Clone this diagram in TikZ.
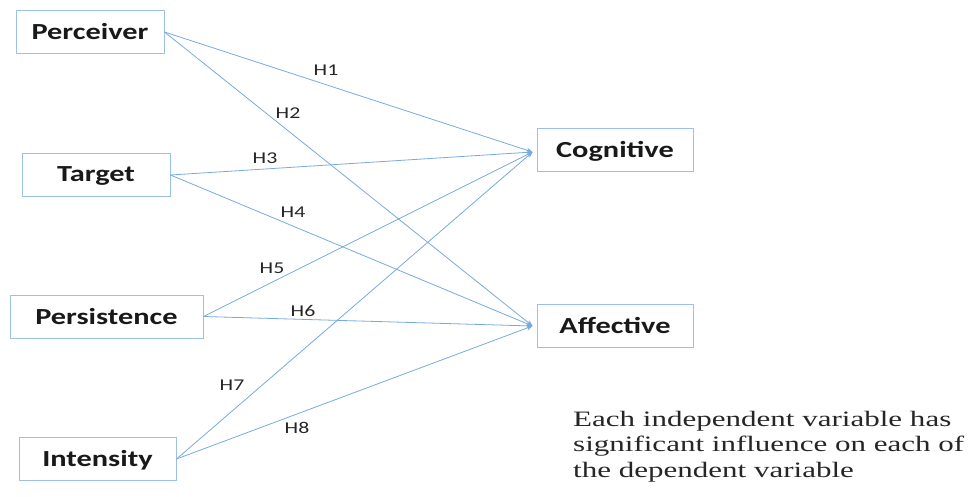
\documentclass[tikz,border=0pt]{standalone}
\usepackage{fontspec}
\setmainfont[FakeStretch=1.41]{Liberation Serif}
\newfontfamily\boxfont[FakeStretch=1.32]{Carlito}
\usetikzlibrary{arrows.meta,calc}
\definecolor{lineblue}{RGB}{120,170,222}
\definecolor{boxblue}{RGB}{155,194,230}
\tikzset{
  varbox/.style={draw=boxblue, line width=1pt, minimum height=43pt, inner sep=0pt, text depth=1pt, font=\boxfont\fontsize{23}{26}\selectfont\bfseries, text=black!90},
  link/.style={draw=lineblue, line width=0.8pt, -{Stealth[length=6pt,width=5pt]}},
  hlabel/.style={font=\boxfont\fontsize{16.5}{18}\selectfont, text=black!85, inner sep=0pt}
}
\begin{document}
\begin{tikzpicture}[x=1pt,y=-1pt]
\useasboundingbox (0,0) rectangle (971,496);
\node[varbox, minimum width=148pt] (perc) at (90,32) {Perceiver};
\node[varbox, minimum width=148pt] (targ) at (96,175) {Target};
\node[varbox, minimum width=193pt] (pers) at (106.5,316.5) {Persistence};
\node[varbox, minimum width=157pt] (inte) at (97.5,459) {Intensity};
\node[varbox, minimum width=156pt] (cogn) at (615,150) {Cognitive};
\node[varbox, minimum width=156pt] (affe) at (615,326) {Affective};
\coordinate (cin) at ($(cogn.west)+(-4,2)$);
\coordinate (ain) at ($(affe.west)+(-4,0)$);
\draw[link] (perc.east) -- (cin);
\draw[link] (perc.east) -- (ain);
\draw[link] (targ.east) -- (cin);
\draw[link] (targ.east) -- (ain);
\draw[link] (pers.east) -- (cin);
\draw[link] (pers.east) -- (ain);
\draw[link] (inte.east) -- (cin);
\draw[link] (inte.east) -- (ain);
\node[hlabel] (h1) at (326,70) {H1};
\node[hlabel] (h2) at (288,113) {H2};
\node[hlabel] (h3) at (265,158) {H3};
\node[hlabel] (h4) at (293,212) {H4};
\node[hlabel] (h5) at (272,268) {H5};
\node[hlabel] (h6) at (303,311) {H6};
\node[hlabel] (h7) at (232,385) {H7};
\node[hlabel] (h8) at (297,428) {H8};
\node[anchor=north west, inner sep=0pt, align=left, font=\fontsize{22}{25.5}\selectfont, text=black!85] (note) at (573,411) {Each independent variable has\\significant influence on each of\\the dependent variable};
\end{tikzpicture}
\end{document}
